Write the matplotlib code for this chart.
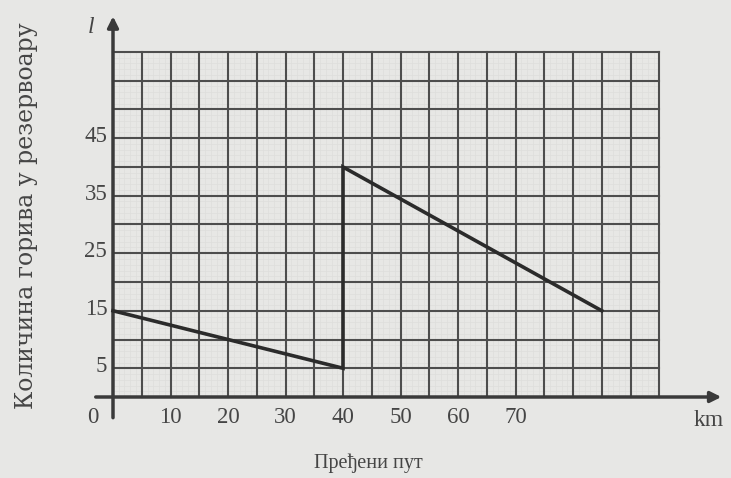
import matplotlib
matplotlib.use("Agg")
import matplotlib.pyplot as plt
import numpy as np

# fuel in the tank vs distance travelled
distance = [0, 40, 40, 85]
fuel = [15, 5, 40, 15]

x_ticks = [10, 20, 30, 40, 50, 60, 70]
y_ticks = [5, 15, 25, 35, 45]

grid_x = np.arange(5, 100, 5)
grid_y = np.arange(5, 65, 5)

bg = "#e7e7e5"
ink = "#3a3a3a"
txt = "#454545"
serif = ["Liberation Serif", "DejaVu Serif"]

fig = plt.figure(figsize=(7.31, 4.78), dpi=100, facecolor=bg)
ax = fig.add_axes([0, 0, 1, 1], facecolor=bg)
ax.set_xlim(-113 / 5.75, (731 - 113) / 5.75)
ax.set_ylim(-(478 - 397) / 5.75, 397 / 5.75)
ax.axis("off")

# faint graph paper
for v in np.arange(1, 95, 1):
    ax.plot([v, v], [0, 60], color="#dededc", lw=0.5, zorder=1)
for v in np.arange(1, 60, 1):
    ax.plot([0, 95], [v, v], color="#dededc", lw=0.5, zorder=1)

# main grid
for v in grid_x:
    ax.plot([v, v], [0, 60], color="#4d4d4d", lw=1.5, zorder=2)
for v in grid_y:
    ax.plot([0, 95], [v, v], color="#4d4d4d", lw=1.5, zorder=2)

# axes with arrows
ax.annotate("", xy=(105.8, 0), xytext=(-3, 0),
            arrowprops=dict(arrowstyle="-|>", lw=2.5, color=ink, mutation_scale=16,
                            shrinkA=0, shrinkB=0), zorder=4)
ax.annotate("", xy=(0, 66.2), xytext=(0, -3.6),
            arrowprops=dict(arrowstyle="-|>", lw=2.5, color=ink, mutation_scale=16,
                            shrinkA=0, shrinkB=0), zorder=4)

# the graph
ax.plot(distance, fuel, color="#2b2b2b", lw=2.6, solid_joinstyle="miter", zorder=5)

# tick labels
for t in x_ticks:
    ax.text(t, -3.6, str(t), ha="center", va="center", fontsize=16.5,
            family=serif, color=txt)
ax.text(-3.5, -3.6, "0", ha="center", va="center", fontsize=16.5, family=serif, color=txt)
for t in y_ticks:
    ax.text(-1.0, t + 0.3, str(t), ha="right", va="center", fontsize=16.5,
            family=serif, color=txt)

ax.text(-3.9, 64.3, "l", ha="center", va="center", fontsize=17, style="italic",
        family=serif, color=txt)
ax.text(103.6, -4.0, "km", ha="center", va="center", fontsize=17, family=serif, color=txt)

ax.text(44.5, -11.5, "Пређени пут", ha="center", va="center", fontsize=14.5,
        family=serif, color=txt)
ax.text(-15.0, 31.5, "Количина горива у резервоару", ha="center", va="center",
        rotation=90, fontsize=17, family=["DejaVu Serif"], color=txt)

fig.savefig("out.png", dpi=100, facecolor=bg)
